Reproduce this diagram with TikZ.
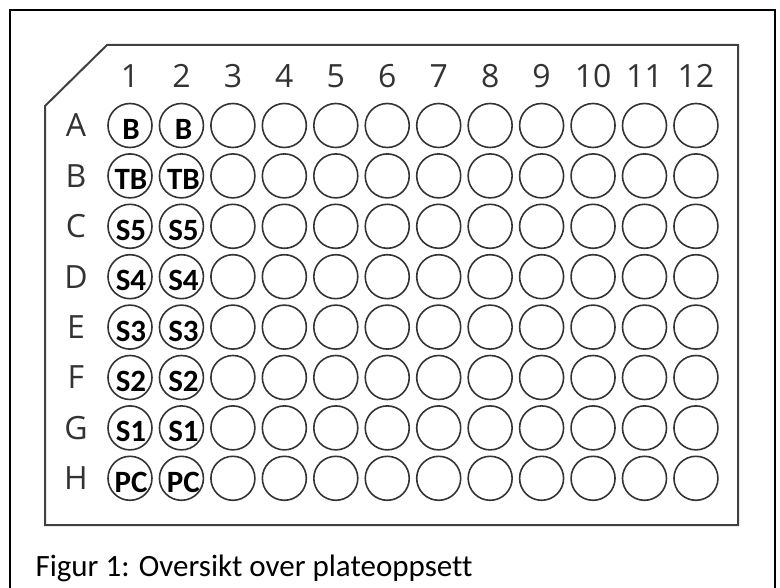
\documentclass[tikz,border=0pt]{standalone}
\usepackage{fontspec}
\setmainfont{Carlito}[Ligatures=NoCommon]
\newfontfamily\platefont{Open Sans}
\usetikzlibrary{positioning}

\begin{document}
\begin{tikzpicture}[x=1pt, y=-1pt,
    frame/.style={draw=black, line width=2pt},
    plate/.style={draw=black!75, line width=2pt, line join=miter},
    well/.style={draw=black!80, line width=1.6pt, circle, minimum size=44pt, inner sep=0pt},
    welltxt/.style={font=\bfseries\fontsize{31}{31}\selectfont, inner sep=0pt},
    idx/.style={font=\platefont\fontsize{32}{32}\selectfont, text=black!80, inner sep=0pt}
]
\useasboundingbox (0,0) rectangle (780,588);

% outer frame (open at the bottom) and plate outline
\draw[frame] (10,588) |- (775,10) -- (775,588);
\draw[plate] (45,106) -- (107,45) -- (738,45) -- (738,525) -- (45,525) -- cycle;

% column numbers
\foreach \c in {1,...,12}
    \node[idx] (col-\c) at ({130+(\c-1)*51.45},76) {\c};

% rows of wells, the first two columns are labelled
\foreach \r/\t [count=\i from 0] in {A/B,B/TB,C/S5,D/S4,E/S3,F/S2,G/S1,H/PC} {
    \node[idx] (row-\r) at (76,{125.5+\i*50.4}) {\r};
    \foreach \c in {1,...,12}
        \node[well] (w-\r-\c) at ({130+(\c-1)*51.45},{125.5+\i*50.4}) {};
    \node[welltxt] (t-\r-1) at ([xshift=1pt,yshift=-4pt]w-\r-1.center) {\t};
    \node[welltxt] (t-\r-2) at ([xshift=2pt,yshift=-4pt]w-\r-2.center) {\t};
}

\node[anchor=base west, font=\fontsize{31}{34}\selectfont] (caption) at (32,576) {Figur 1: Oversikt over plateoppsett};
\end{tikzpicture}
\end{document}
